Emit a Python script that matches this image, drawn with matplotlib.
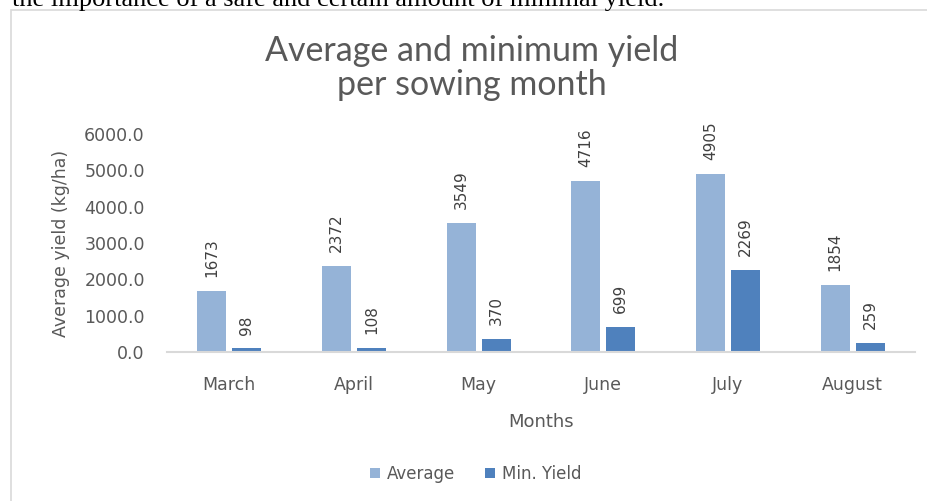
import numpy as np
import matplotlib.pyplot as plt
from matplotlib.patches import Rectangle

# Chart data
months = ['March', 'April', 'May', 'June', 'July', 'August']
average = [1673, 2372, 3549, 4716, 4905, 1854]
min_yield = [98, 108, 370, 699, 2269, 259]
y_ticks = [0, 1000, 2000, 3000, 4000, 5000, 6000]

# Colours
c_avg = '#95B3D7'
c_min = '#4F81BD'
c_text = '#595959'

fig = plt.figure(figsize=(9.27, 5.01), dpi=100)
W, H = 927, 501

# page text cut off at the top
fig.text(12 / W, 1 - 6 / H, 'the importance of a safe and certain amount of minimal yield.',
         family='Liberation Serif', fontsize=19, color='black', va='baseline', ha='left')

# chart frame
fig.patches.append(Rectangle((11 / W, -0.1), 1.2, 1 - 10 / H + 0.1, transform=fig.transFigure,
                             fill=False, edgecolor='#D9D9D9', linewidth=1.2))

ax = fig.add_axes([167 / W, 1 - 352 / H, (915 - 167) / W, (352 - 134) / H])

x = np.arange(len(months))
w = 0.233
off = 0.14
b1 = ax.bar(x - off, average, w, color=c_avg, label='Average')
b2 = ax.bar(x + off, min_yield, w, color=c_min, label='Min. Yield')

for bars, vals in [(b1, average), (b2, min_yield)]:
    for rect, v in zip(bars, vals):
        ax.annotate(str(v), (rect.get_x() + rect.get_width() / 2, v),
                    xytext=(0, 10), textcoords='offset points',
                    rotation=90, ha='center', va='bottom',
                    fontsize=11, color='#404040', annotation_clip=False)

ax.set_xlim(-0.5, len(months) - 0.5)
ax.set_ylim(0, 6000)
ax.set_yticks(y_ticks)
ax.set_yticklabels([f'{v:.1f}' for v in y_ticks])
ax.set_xticks(x)
ax.set_xticklabels(months)
ax.tick_params(length=0, labelsize=12.5, labelcolor=c_text)
ax.tick_params(axis='x', pad=17)
ax.tick_params(axis='y', pad=16)

for s in ['top', 'right', 'left']:
    ax.spines[s].set_visible(False)
ax.spines['bottom'].set_color('#D9D9D9')
ax.spines['bottom'].set_linewidth(1.5)

ax.set_ylabel('Average yield (kg/ha)', fontsize=12.5, color=c_text, labelpad=10)
ax.set_xlabel('Months', fontsize=13, color=c_text, labelpad=14)

fig.text(472 / W, 1 - 68 / H, 'Average and minimum yield\nper sowing month',
         family='Lato', fontsize=24.5, color=c_text, ha='center', va='center', linespacing=1.05)

fig.legend(handles=[b1, b2], loc='center', bbox_to_anchor=(476 / W, 1 - 474 / H),
           ncol=2, frameon=False, fontsize=12, labelcolor=c_text,
           handlelength=0.6, handleheight=0.6, handletextpad=0.4, columnspacing=1.8)

fig.savefig('out.png', dpi=100, facecolor='white')
